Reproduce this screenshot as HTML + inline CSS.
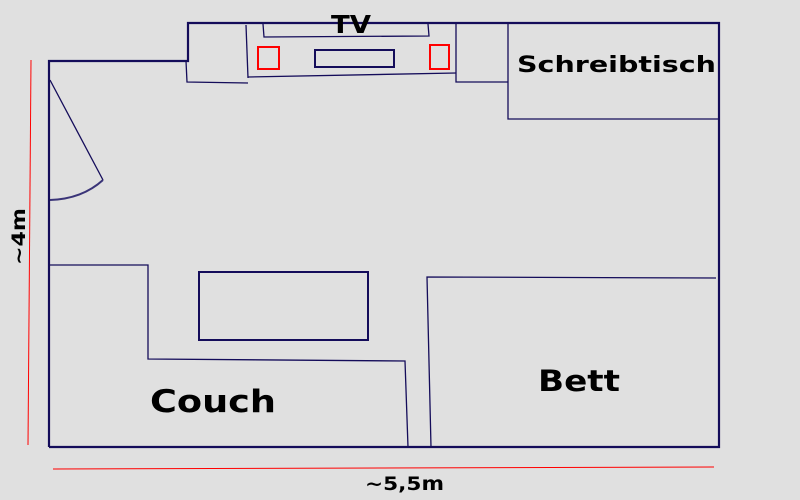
<!DOCTYPE html>
<html><head><meta charset="utf-8"><style>
html,body{margin:0;padding:0;background:#e0e0e0;}
svg{display:block}
text{font-family:"DejaVu Sans","Liberation Sans",sans-serif;font-weight:bold;fill:#000}
</style></head><body>
<svg width="800" height="500" viewBox="0 0 800 500" xmlns="http://www.w3.org/2000/svg">
<rect width="800" height="500" fill="#e0e0e0"/>
<g fill="none" stroke="#140c5a">
<polyline stroke-width="2.2" points="49,447 49,61 188,61 188,23 719,23 719,447 49,447"/>
<polyline stroke-width="1.3" points="263,24 264,37 429,36 428,24"/>
<polyline stroke-width="1.3" points="186,61 187,82 248,83"/>
<line stroke-width="1.3" x1="246" y1="25" x2="248" y2="78"/>
<line stroke-width="1.3" x1="248" y1="77" x2="456" y2="73"/>
<polyline stroke-width="1.3" points="456,23 456,82 508,82"/>
<polyline stroke-width="1.3" points="508,23 508,119 719,119"/>
<rect x="315" y="50" width="79" height="17" stroke-width="2"/>
<line stroke-width="1.3" x1="50" y1="80" x2="103" y2="180"/>
<path d="M103,180 Q82,199 50,200" stroke-width="2" stroke="#3a3478"/>
<polyline stroke-width="1.3" points="49,265 148,265 148,359 405,361 408,447"/>
<rect x="199" y="272" width="169" height="68" stroke-width="2"/>
<polyline stroke-width="1.3" points="716,278 427,277 431,447"/>
</g>
<rect x="258" y="47" width="21" height="22" fill="none" stroke="#f00" stroke-width="2"/>
<rect x="430" y="45" width="19" height="24" fill="none" stroke="#f00" stroke-width="2"/>
<line x1="31" y1="60" x2="28" y2="445" stroke="#f00" stroke-width="1"/>
<line x1="53" y1="469" x2="714" y2="467" stroke="#f00" stroke-width="1"/>
<text x="331" y="33" font-size="25" textLength="40" lengthAdjust="spacingAndGlyphs">TV</text>
<text x="517" y="72" font-size="22" textLength="199" lengthAdjust="spacingAndGlyphs">Schreibtisch</text>
<text x="150" y="412" font-size="31" textLength="126" lengthAdjust="spacingAndGlyphs">Couch</text>
<text x="538" y="391" font-size="29" textLength="82" lengthAdjust="spacingAndGlyphs">Bett</text>
<text x="365" y="490" font-size="19" textLength="79" lengthAdjust="spacingAndGlyphs">~5,5m</text>
<text transform="translate(25,265) rotate(-90)" font-size="19" textLength="57" lengthAdjust="spacingAndGlyphs">~4m</text>
</svg>
</body></html>
